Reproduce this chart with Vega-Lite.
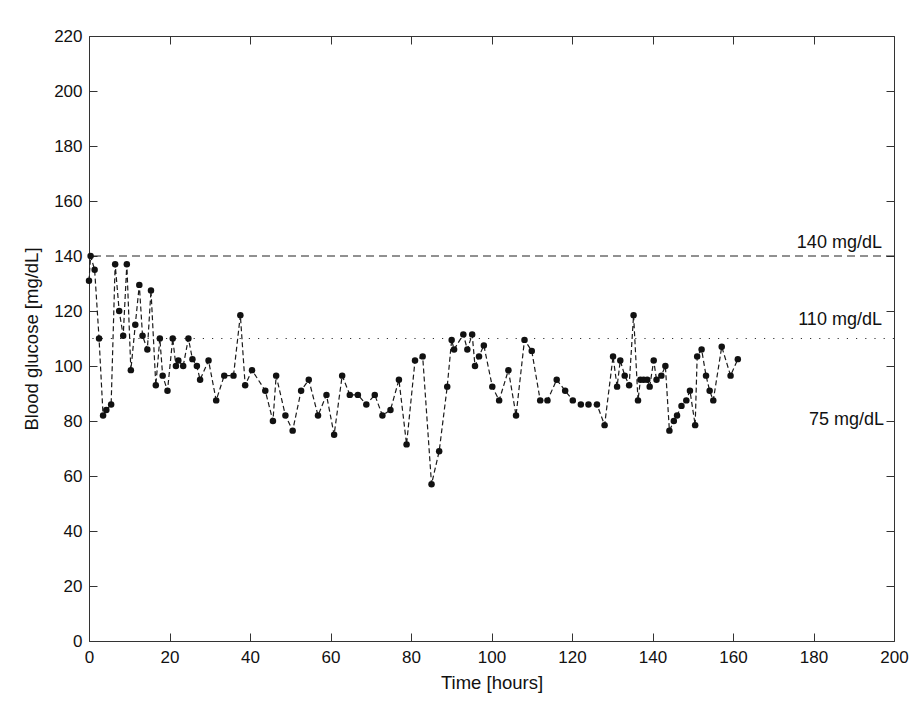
{
  "$schema": "https://vega.github.io/schema/vega-lite/v6.json",
  "width": 805,
  "height": 605,
  "autosize": {"type": "none"},
  "padding": {"left": 89, "top": 36, "right": 15, "bottom": 61},
  "background": "white",
  "config": {
    "font": "Liberation Sans",
    "view": {"stroke": "#333", "strokeWidth": 1},
    "axis": {
      "grid": false,
      "domain": false,
      "labelFlush": false,
      "labelFont": "Liberation Sans",
      "labelFontSize": 17,
      "labelColor": "#111",
      "titleFont": "Liberation Sans",
      "titleFontSize": 18.5,
      "titleFontWeight": "normal",
      "titleColor": "#111",
      "tickColor": "#333",
      "tickSize": -8,
      "tickWidth": 1
    }
  },
  "datasets": {
    "glucose": [
      {"hour": 0, "bg": 131}, {"hour": 0.4, "bg": 140}, {"hour": 1.4, "bg": 135}, {"hour": 2.5, "bg": 110},
      {"hour": 3.5, "bg": 82}, {"hour": 4.3, "bg": 84}, {"hour": 5.5, "bg": 86}, {"hour": 6.5, "bg": 137},
      {"hour": 7.5, "bg": 120}, {"hour": 8.5, "bg": 111}, {"hour": 9.4, "bg": 137}, {"hour": 10.4, "bg": 98.5},
      {"hour": 11.5, "bg": 115}, {"hour": 12.5, "bg": 129.5}, {"hour": 13.3, "bg": 111}, {"hour": 14.5, "bg": 106},
      {"hour": 15.4, "bg": 127.5}, {"hour": 16.6, "bg": 93}, {"hour": 17.6, "bg": 110}, {"hour": 18.3, "bg": 96.5},
      {"hour": 19.5, "bg": 91}, {"hour": 20.8, "bg": 110}, {"hour": 21.6, "bg": 100}, {"hour": 22.2, "bg": 102},
      {"hour": 23.4, "bg": 100}, {"hour": 24.7, "bg": 110}, {"hour": 25.7, "bg": 102.5}, {"hour": 26.8, "bg": 100},
      {"hour": 27.6, "bg": 95}, {"hour": 29.7, "bg": 102}, {"hour": 31.6, "bg": 87.5}, {"hour": 33.6, "bg": 96.5},
      {"hour": 35.9, "bg": 96.5}, {"hour": 37.6, "bg": 118.5}, {"hour": 38.8, "bg": 93}, {"hour": 40.5, "bg": 98.5},
      {"hour": 43.8, "bg": 91}, {"hour": 45.7, "bg": 80}, {"hour": 46.5, "bg": 96.5}, {"hour": 48.8, "bg": 82},
      {"hour": 50.6, "bg": 76.5}, {"hour": 52.7, "bg": 91}, {"hour": 54.6, "bg": 95}, {"hour": 56.9, "bg": 82},
      {"hour": 59.0, "bg": 89.5}, {"hour": 60.9, "bg": 75}, {"hour": 62.9, "bg": 96.5}, {"hour": 64.8, "bg": 89.5},
      {"hour": 66.8, "bg": 89.5}, {"hour": 68.9, "bg": 86}, {"hour": 71.0, "bg": 89.5}, {"hour": 72.9, "bg": 82},
      {"hour": 74.9, "bg": 84}, {"hour": 77.0, "bg": 95}, {"hour": 78.9, "bg": 71.5}, {"hour": 81.0, "bg": 102},
      {"hour": 82.9, "bg": 103.5}, {"hour": 85.1, "bg": 57}, {"hour": 87.0, "bg": 69}, {"hour": 89.0, "bg": 92.5},
      {"hour": 90.1, "bg": 109.5}, {"hour": 90.7, "bg": 106}, {"hour": 93.0, "bg": 111.5}, {"hour": 94.0, "bg": 106},
      {"hour": 95.2, "bg": 111.5}, {"hour": 95.9, "bg": 100}, {"hour": 96.9, "bg": 103.5}, {"hour": 98.1, "bg": 107.5},
      {"hour": 100.2, "bg": 92.5}, {"hour": 101.9, "bg": 87.5}, {"hour": 104.2, "bg": 98.5}, {"hour": 106.1, "bg": 82},
      {"hour": 108.2, "bg": 109.5}, {"hour": 110.0, "bg": 105.5}, {"hour": 112.1, "bg": 87.5}, {"hour": 113.9, "bg": 87.5},
      {"hour": 116.2, "bg": 95}, {"hour": 118.3, "bg": 91}, {"hour": 120.2, "bg": 87.5}, {"hour": 122.2, "bg": 86},
      {"hour": 124.1, "bg": 86}, {"hour": 126.2, "bg": 86}, {"hour": 128.1, "bg": 78.5}, {"hour": 130.2, "bg": 103.5},
      {"hour": 131.2, "bg": 92.5}, {"hour": 132.0, "bg": 102}, {"hour": 133.1, "bg": 96.5}, {"hour": 134.2, "bg": 93},
      {"hour": 135.3, "bg": 118.5}, {"hour": 136.4, "bg": 87.5}, {"hour": 137.0, "bg": 95}, {"hour": 137.8, "bg": 95},
      {"hour": 138.7, "bg": 95}, {"hour": 139.3, "bg": 92.5}, {"hour": 140.3, "bg": 102}, {"hour": 141.0, "bg": 95},
      {"hour": 142.2, "bg": 96.5}, {"hour": 143.2, "bg": 100}, {"hour": 144.2, "bg": 76.5}, {"hour": 145.3, "bg": 80},
      {"hour": 146.1, "bg": 82}, {"hour": 147.2, "bg": 85.5}, {"hour": 148.4, "bg": 87.5}, {"hour": 149.3, "bg": 91},
      {"hour": 150.6, "bg": 78.5}, {"hour": 151.1, "bg": 103.5}, {"hour": 152.2, "bg": 106}, {"hour": 153.3, "bg": 96.5},
      {"hour": 154.2, "bg": 91}, {"hour": 155.1, "bg": 87.5}, {"hour": 157.2, "bg": 107}, {"hour": 159.4, "bg": 96.5},
      {"hour": 161.2, "bg": 102.5}
    ],
    "labels": [
      {"hour": 197, "bg": 144.9, "text": "140 mg/dL"},
      {"hour": 197, "bg": 116.7, "text": "110 mg/dL"},
      {"hour": 197.5, "bg": 80.5, "text": "75 mg/dL"}
    ]
  },
  "layer": [
    {
      "data": {"values": [{"bg": 140}]},
      "mark": {"type": "rule", "color": "#222", "strokeWidth": 1, "strokeDash": [8, 5]},
      "encoding": {
        "y": {"field": "bg", "type": "quantitative", "scale": {"domain": [0, 220], "nice": false}, "axis": null}
      }
    },
    {
      "data": {"values": [{"bg": 110}]},
      "mark": {"type": "rule", "color": "#333", "strokeWidth": 1, "strokeDash": [1.2, 8]},
      "encoding": {
        "y": {"field": "bg", "type": "quantitative", "scale": {"domain": [0, 220], "nice": false}, "axis": null}
      }
    },
    {
      "data": {"name": "glucose"},
      "mark": {
        "type": "line",
        "color": "#1a1a1a",
        "strokeWidth": 1.2,
        "strokeDash": [5, 3],
        "point": {"filled": true, "size": 42, "color": "#111", "opacity": 1}
      },
      "encoding": {
        "x": {
          "field": "hour", "type": "quantitative",
          "scale": {"domain": [0, 200], "nice": false},
          "axis": {"orient": "bottom", "values": [0, 20, 40, 60, 80, 100, 120, 140, 160, 180, 200], "title": "Time [hours]", "labelPadding": 16, "titlePadding": 8}
        },
        "y": {
          "field": "bg", "type": "quantitative",
          "scale": {"domain": [0, 220], "nice": false},
          "axis": {"orient": "left", "values": [0, 20, 40, 60, 80, 100, 120, 140, 160, 180, 200, 220], "title": "Blood glucose [mg/dL]", "labelPadding": 15, "titlePadding": 12}
        }
      }
    },
    {
      "data": {"name": "labels"},
      "mark": {"type": "text", "align": "right", "baseline": "middle", "font": "Liberation Sans", "fontSize": 18, "color": "#111"},
      "encoding": {
        "x": {
          "field": "hour", "type": "quantitative",
          "scale": {"domain": [0, 200], "nice": false},
          "axis": {"orient": "top", "values": [0, 20, 40, 60, 80, 100, 120, 140, 160, 180, 200], "labels": false, "title": null}
        },
        "y": {
          "field": "bg", "type": "quantitative",
          "scale": {"domain": [0, 220], "nice": false},
          "axis": {"orient": "right", "values": [0, 20, 40, 60, 80, 100, 120, 140, 160, 180, 200, 220], "labels": false, "title": null}
        },
        "text": {"field": "text", "type": "nominal"}
      }
    }
  ],
  "resolve": {"axis": {"x": "independent", "y": "independent"}}
}
